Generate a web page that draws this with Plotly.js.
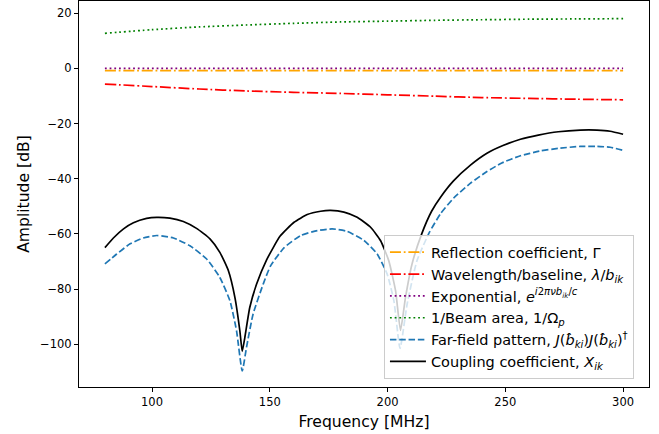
<!DOCTYPE html>
<html>
<head>
<meta charset="utf-8">
<script src="https://cdn.plot.ly/plotly-3.0.1.min.js"></script>
<style>
html,body{margin:0;padding:0;background:#fff;}
#chart{width:659px;height:434px;}
</style>
</head>
<body>
<div id="chart"></div>
<script>
// ---- data ----
const freqFlat = [80, 100, 120, 140, 160, 180, 200, 220, 240, 260, 280, 300];
const reflection = [-0.8, -0.8, -0.8, -0.8, -0.8, -0.8, -0.8, -0.8, -0.8, -0.8, -0.8, -0.8];
const wavelength = [-5.7, -6.6, -7.5, -8.2, -8.7, -9.1, -9.6, -10.1, -10.6, -10.9, -11.2, -11.4];
const exponential = [0.0, 0.0, 0.0, 0.0, 0.0, 0.0, 0.0, 0.0, 0.0, 0.0, 0.0, 0.0];
const beamArea = [12.7, 14.0, 15.0, 15.7, 16.3, 16.8, 17.1, 17.4, 17.6, 17.8, 17.9, 18.0];

const freqBlue = [80, 85.0, 90.7, 96.3, 102, 109.1, 116.1, 123.2, 128.8, 133.1, 135.9, 138.3,
  140.1, 142.9, 147.2, 150.4, 156.1, 163.1, 170.2, 176.5, 182.9, 190, 195.6, 199.8, 202.7,
  205.3, 208.3, 212.5, 217.8, 222.5, 228.1, 235.1, 242.2, 248.5, 256.4, 264.5, 272.5, 281.8,
  288.9, 294.5, 300];
const farField = [-70.9, -67.3, -63.6, -61.5, -60.6, -61.5, -64.3, -69.1, -75.8, -84.3, -95.2, -109.7,
  -101.2, -89.1, -78.2, -71.5, -65.0, -60.6, -58.8, -58.2, -59.1, -62.4, -67.3, -74.5, -84.3,
  -101.5, -85.5, -69.7, -59.4, -52.7, -47.0, -41.7, -37.4, -34.3, -31.7, -30.0, -29.0, -28.3,
  -28.3, -28.6, -29.7];

const freqBlack = [80, 83.6, 87.9, 92.1, 97.7, 102, 107.6, 113.3, 118.9, 124.6, 128.8, 132.4, 135.2,
  137.3, 138.3, 139.4, 141.5, 144.4, 148.6, 154.4, 160.3, 165.9, 171.6, 175.8, 181.5, 187.1, 192.8,
  197.0, 200.5, 203.4, 205.5, 207.6, 210.4, 214.5, 218.7, 222.5, 228.0, 235.2, 242.2, 249.0, 256.4,
  264.0, 272.5, 281.8, 288.9, 294.5, 300];
const coupling = [-65.0, -61.5, -58.2, -56.0, -54.4, -54.0, -54.3, -55.5, -58.0, -61.8, -66.7, -73.3, -83.1,
  -95.2, -102.6, -97.6, -86.7, -78.2, -69.5, -60.8, -55.8, -53.0, -51.8, -51.5, -52.1, -54.0, -57.6,
  -62.4, -69.7, -80.6, -95.0, -83.1, -70.9, -60.0, -51.8, -46.7, -40.8, -35.1, -30.8, -28.0, -25.7,
  -24.2, -23.0, -22.4, -22.4, -22.8, -23.9];

const labels = [
  'Reflection coefficient, Γ',
  'Wavelength/baseline, <i>λ</i>/<i>b</i><sub><i>ik</i></sub>',
  'Exponential, <i>e</i><sup><i>i</i>2<i>πνb</i><sub><i>ik</i></sub>/<i>c</i></sup>',
  '1/Beam area, 1/Ω<sub><i>p</i></sub>',
  'Far-field pattern, <i>J</i>(<i>b̂</i><sub><i>ki</i></sub>)<i>J</i>(<i>b̂</i><sub><i>ki</i></sub>)<sup>†</sup>',
  'Coupling coefficient, <i>X</i><sub><i>ik</i></sub>'
];

const dashdot = '11px,2.8px,1.8px,2.8px';
const dotted = '1.8px,2.9px';
const dashed = '6.5px,2.8px';
const lw = 1.7;

const traces = [
  {x: freqFlat, y: reflection, name: labels[0], line: {color: '#ffa500', width: lw, dash: dashdot}},
  {x: freqFlat, y: wavelength, name: labels[1], line: {color: '#ff0000', width: lw, dash: dashdot, shape: 'spline', smoothing: 0.6}},
  {x: freqFlat, y: exponential, name: labels[2], line: {color: '#800080', width: lw, dash: dotted}},
  {x: freqFlat, y: beamArea, name: labels[3], line: {color: '#008000', width: lw, dash: dotted, shape: 'spline', smoothing: 0.6}},
  {x: freqBlue, y: farField, name: labels[4], line: {color: '#1f77b4', width: lw, dash: dashed, shape: 'spline', smoothing: 0.5}},
  {x: freqBlack, y: coupling, name: labels[5], line: {color: '#000000', width: lw, shape: 'spline', smoothing: 0.5}}
].map((t, i) => Object.assign({type: 'scatter', mode: 'lines', legendgroup: 'g' + i, hoverinfo: 'skip'}, t));

const font = {family: 'DejaVu Sans, sans-serif', color: '#000'};

const axisCommon = {
  showline: true, mirror: true, linecolor: '#000', linewidth: 1,
  ticks: 'outside', ticklen: 4, tickwidth: 1, tickcolor: '#000',
  showgrid: false, zeroline: false,
  tickfont: Object.assign({size: 11.5}, font)
};

const layout = {
  width: 659, height: 434,
  margin: {l: 79, r: 10, t: 1, b: 47, pad: 0},
  paper_bgcolor: '#fff', plot_bgcolor: '#fff',
  font: font,
  showlegend: true,
  xaxis: Object.assign({}, axisCommon, {
    range: [69, 311], tickmode: 'linear', tick0: 100, dtick: 50,
    title: {text: 'Frequency [MHz]', font: Object.assign({size: 15.6}, font), standoff: 8}
  }),
  yaxis: Object.assign({}, axisCommon, {
    range: [-115.5, 24.4], tickmode: 'linear', tick0: 0, dtick: 20,
    title: {text: 'Amplitude [dB]', font: Object.assign({size: 15.6}, font), standoff: 6}
  }),
  legend: {
    x: 0.535, y: 0.02, xanchor: 'left', yanchor: 'bottom',
    bgcolor: 'rgba(255,255,255,0.8)', bordercolor: '#cccccc', borderwidth: 1,
    font: Object.assign({size: 14.5}, font),
    tracegroupgap: 6, traceorder: 'normal', itemwidth: 36
  }
};

Plotly.newPlot('chart', traces, layout, {staticPlot: true, displayModeBar: false});
</script>
</body>
</html>
